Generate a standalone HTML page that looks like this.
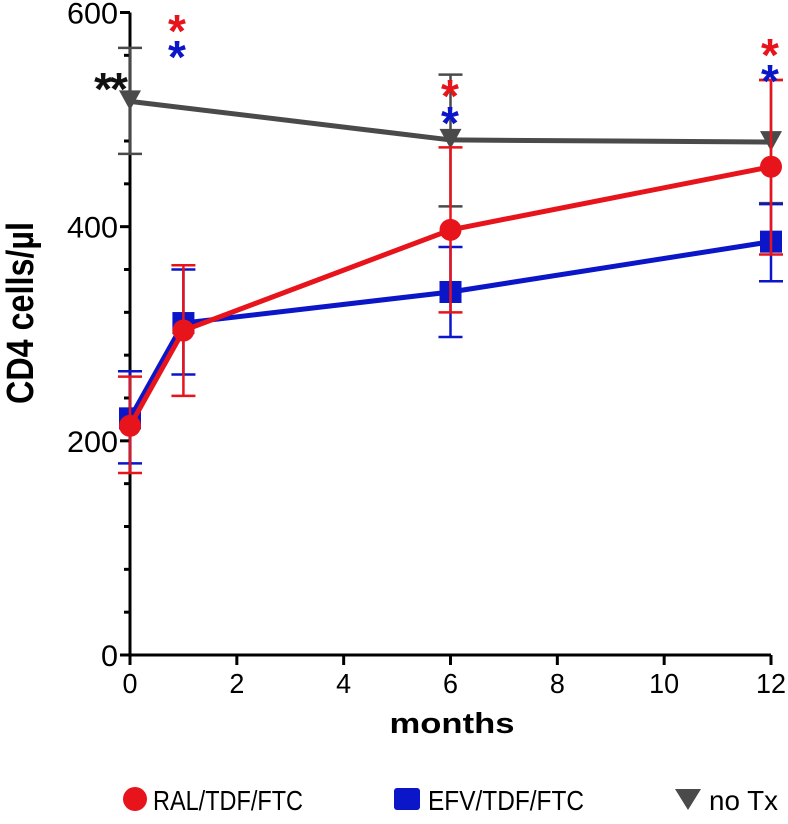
<!DOCTYPE html>
<html><head><meta charset="utf-8"><style>
body{margin:0;background:#fff}
svg text{font-family:"Liberation Sans",sans-serif}
</style></head><body>
<svg id="chart" width="788" height="819" viewBox="0 0 788 819" xmlns="http://www.w3.org/2000/svg">
<g id="axes"></g>
<g id="series"></g>
<text transform="translate(33,313) rotate(-90)" text-anchor="middle" font-size="38" font-weight="bold" textLength="182" lengthAdjust="spacingAndGlyphs">CD4 cells/µl</text>
<text x="452" y="733" text-anchor="middle" font-size="29" font-weight="bold" textLength="125" lengthAdjust="spacingAndGlyphs">months</text>
<text x="177" y="47" text-anchor="middle" font-size="46" font-weight="bold" fill="#e8141c">*</text>
<text x="177" y="73" text-anchor="middle" font-size="46" font-weight="bold" fill="#0a16c8">*</text>
<text x="450" y="112" text-anchor="middle" font-size="46" font-weight="bold" fill="#e8141c">*</text>
<text x="450" y="139" text-anchor="middle" font-size="46" font-weight="bold" fill="#0a16c8">*</text>
<text x="770" y="71" text-anchor="middle" font-size="46" font-weight="bold" fill="#e8141c">*</text>
<text x="770" y="97" text-anchor="middle" font-size="46" font-weight="bold" fill="#0a16c8">*</text>
<text x="110" y="105" text-anchor="middle" font-size="46" font-weight="bold" fill="#111" letter-spacing="-2">**</text>
<g>
<circle cx="135" cy="799" r="12" fill="#e8141c"/>
<text x="153" y="810" font-size="28" textLength="150" lengthAdjust="spacingAndGlyphs">RAL/TDF/FTC</text>
<rect x="394" y="788" width="26" height="22" rx="3" fill="#0a16c8"/>
<text x="428" y="810" font-size="28" textLength="156" lengthAdjust="spacingAndGlyphs">EFV/TDF/FTC</text>
<path d="M675,789 L701,789 L688,810 Z" fill="#4a4a4a"/>
<text x="709" y="810" font-size="28" textLength="69" lengthAdjust="spacingAndGlyphs">no Tx</text>
</g>
</svg>
<script>
const months=[0,1,6,12];
const ralMean=[214,303,397,456], ralLo=[170,242,320,374], ralHi=[260,364,474,537];
const efvMean=[221,310,339,386], efvLo=[179,262,297,349], efvHi=[265,360,381,421];
const notxMonths=[0,6,12];
const notxMean=[517,481,479], notxLo=[468,419,422], notxHi=[567,542,537];
const xTicks=[0,2,4,6,8,10,12];
const yTicks=[0,200,400,600];
const NS="http://www.w3.org/2000/svg";
const X0=130,X1=771,Y0=655,Y1=12.5;
const xs=m=>X0+(X1-X0)*m/12;
const ys=v=>Y0-(Y0-Y1)*v/600;
function mk(tag,attrs,parent){const e=document.createElementNS(NS,tag);for(const k in attrs)e.setAttribute(k,attrs[k]);parent.appendChild(e);return e;}
const ax=document.getElementById('axes');
let e=mk('line',{x1:X0,y1:Y1,x2:X0,y2:Y0,stroke:'#000','stroke-width':3},ax);

e=mk('line',{x1:X0,y1:Y0,x2:X1,y2:Y0,stroke:'#000','stroke-width':3},ax);

for(let v=0;v<=600;v+=40){const major=yTicks.includes(v);
 e=mk('line',{x1:X0-(major?10:6),y1:ys(v),x2:X0,y2:ys(v),stroke:'#000','stroke-width':3},ax);
 }
yTicks.forEach(v=>{const s=String(v);e=mk('text',{x:X0-12,y:ys(v)+11,'text-anchor':'end','font-size':30,textLength:s.length*17,lengthAdjust:'spacingAndGlyphs'},ax);e.textContent=s;
 });
xTicks.forEach(m=>{e=mk('line',{x1:xs(m),y1:Y0,x2:xs(m),y2:Y0+10,stroke:'#000','stroke-width':3},ax);
 
 const s=String(m);
 e=mk('text',{x:xs(m),y:Y0+38,'text-anchor':'middle','font-size':28,textLength:s.length*15,lengthAdjust:'spacingAndGlyphs'},ax);e.textContent=s;
 });
const sg=document.getElementById('series');
function series(name,ms,mean,lo,hi,color,shape){
 const g=mk('g',{},sg);
 
 ms.forEach((m,i)=>{const x=xs(m);
  e=mk('path',{d:`M${x},${ys(lo[i])}V${ys(hi[i])}M${x-12},${ys(lo[i])}h24M${x-12},${ys(hi[i])}h24`,stroke:color,'stroke-width':2.5,fill:'none'},g);
  });
 e=mk('polyline',{points:ms.map((m,i)=>xs(m)+','+ys(mean[i])).join(' '),stroke:color,'stroke-width':5,fill:'none'},g);
 
 ms.forEach((m,i)=>{const x=xs(m),y=ys(mean[i]);
  if(shape==='c')e=mk('circle',{cx:x,cy:y,r:11,fill:color},g);
  else if(shape==='s')e=mk('rect',{x:x-11,y:y-11,width:22,height:22,fill:color},g);
  else e=mk('path',{d:`M${x-11},${y-11}H${x+11}L${x},${y+9}Z`,fill:color},g);
  });
}
series('notx',notxMonths,notxMean,notxLo,notxHi,'#4a4a4a','t');
series('efv',months,efvMean,efvLo,efvHi,'#0a16c8','s');
series('ral',months,ralMean,ralLo,ralHi,'#e8141c','c');
</script>
</body></html>
